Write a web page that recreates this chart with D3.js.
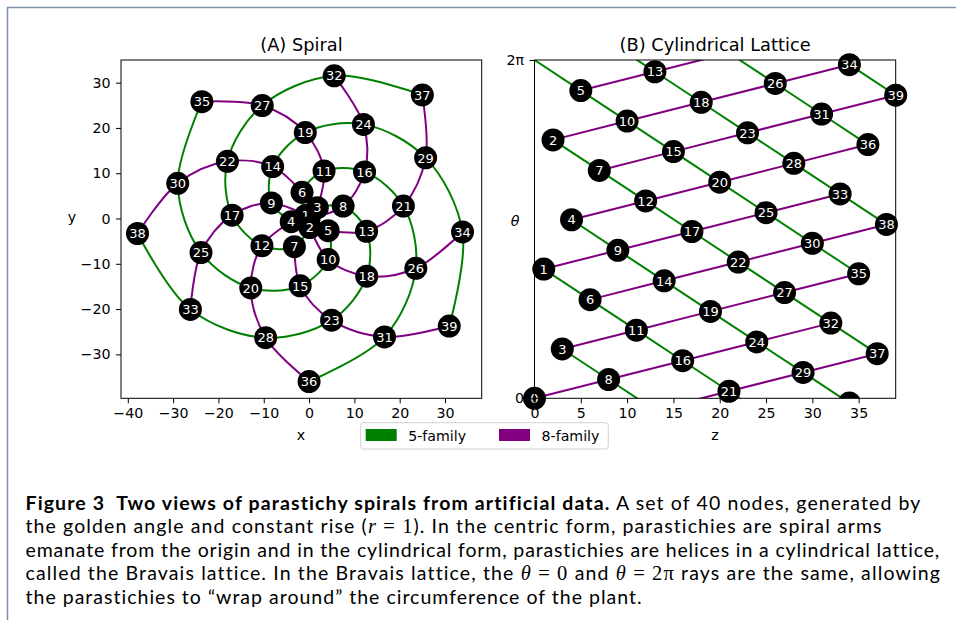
<!DOCTYPE html>
<html>
<head>
<meta charset="utf-8">
<script src="https://cdn.jsdelivr.net/npm/d3@7/dist/d3.min.js"></script>
<style>
  body { margin: 0; background: #fff; }
  svg { display: block; font-family: "DejaVu Sans", sans-serif; }
</style>
</head>
<body>
<svg id="fig" width="956" height="620"></svg>
<script>
// node ids (also the radius in the spiral and the rise z in the lattice)
const nodeIds = [0, 1, 2, 3, 4, 5, 6, 7, 8, 9, 10, 11, 12, 13, 14, 15, 16, 17, 18, 19,
  20, 21, 22, 23, 24, 25, 26, 27, 28, 29, 30, 31, 32, 33, 34, 35, 36, 37, 38, 39];
// divergence angle of each node, degrees in [0, 360)
const nodeAngles = [0, 137.5, 275, 52.5, 190, 327.5, 105, 242.5, 20, 157.5,
  295, 72.5, 210, 347.5, 125, 262.5, 40, 177.5, 315, 92.5,
  230, 7.5, 145, 282.5, 60, 197.5, 335, 112.5, 250, 27.5,
  165, 302.5, 80, 217.5, 355, 132.5, 270, 47.5, 185, 322.5];

const familySteps = [5, 8];
const familyLabels = ['5-family', '8-family'];
const familyColors = ['green', 'purple'];

const spiralXTicks = [-40, -30, -20, -10, 0, 10, 20, 30];
const spiralYTicks = [-30, -20, -10, 0, 10, 20, 30];
const latticeZTicks = [0, 5, 10, 15, 20, 25, 30, 35];
const latticeThetaTicks = [0, 2 * Math.PI];
const latticeThetaLabels = ['0', '2π'];

const svg = d3.select('#fig');
const rad = d => d * Math.PI / 180;
const tickFont = 14.2;
const titleFont = 17.8;
const nodeR = 11.5;

// page frame
svg.append('path')
  .attr('d', 'M7.5,620V7.5H956')
  .attr('fill', 'none')
  .attr('stroke', '#7b8fa8')
  .attr('stroke-width', 1.5);

const minus = d => d3.format('')(d).replace('-', '\u2212');

function axes(g, xScale, yScale, xTicks, yTicks, yFormat) {
  const ax = g.append('g')
    .attr('transform', `translate(0,${yScale.range()[0]})`)
    .call(d3.axisBottom(xScale).tickValues(xTicks).tickSize(5).tickPadding(4.5).tickFormat(minus));
  const ay = g.append('g')
    .attr('transform', `translate(${xScale.range()[0]},0)`)
    .call(d3.axisLeft(yScale).tickValues(yTicks).tickSize(5).tickPadding(5.5).tickFormat(yFormat || minus));
  [ax, ay].forEach(a => {
    a.select('.domain').remove();
    a.selectAll('text').attr('font-size', tickFont).attr('font-family', '"DejaVu Sans"').attr('fill', '#000');
    a.selectAll('line').attr('stroke', '#000');
  });
  const [x0, x1] = xScale.range();
  const [y0, y1] = yScale.range();
  g.append('rect')
    .attr('x', x0).attr('y', y1)
    .attr('width', x1 - x0).attr('height', y0 - y1)
    .attr('fill', 'none').attr('stroke', '#000').attr('stroke-width', 1);
}

function drawNode(g, x, y, label) {
  const n = g.append('g');
  n.append('circle').attr('cx', x).attr('cy', y).attr('r', nodeR).attr('fill', '#000');
  n.append('text').attr('x', x).attr('y', y).attr('dy', '0.36em')
    .attr('text-anchor', 'middle').attr('font-size', 13).attr('fill', '#fff')
    .text(label);
}

// ---------- (A) Spiral ----------
const xA = d3.scaleLinear().domain([-41.5, 38.1]).range([121, 481.7]);
const yA = d3.scaleLinear().domain([-39.7, 35]).range([398.3, 60]);
const gA = svg.append('g');
const spiralPoint = id => {
  const a = rad(nodeAngles[id]);
  return [xA(id * Math.cos(a)), yA(id * Math.sin(a))];
};

const spiralLine = d3.line().curve(d3.curveCatmullRom.alpha(0.5));
familySteps.forEach((step, fi) => {
  d3.range(step).forEach(start => {
    const chain = nodeIds.filter(id => id % step === start);
    gA.append('path')
      .attr('d', spiralLine(chain.map(spiralPoint)))
      .attr('fill', 'none')
      .attr('stroke', familyColors[fi])
      .attr('stroke-width', 2);
  });
});
nodeIds.forEach(id => {
  const [x, y] = spiralPoint(id);
  drawNode(gA, x, y, id);
});
axes(gA, xA, yA, spiralXTicks, spiralYTicks);
gA.append('text').attr('x', 301.4).attr('y', 51).attr('text-anchor', 'middle')
  .attr('font-size', titleFont).text('(A) Spiral');
gA.append('text').attr('x', 301).attr('y', 440).attr('text-anchor', 'middle')
  .attr('font-size', tickFont).text('x');
gA.append('text').attr('x', 72).attr('y', 222).attr('text-anchor', 'middle')
  .attr('font-size', tickFont).text('y');

// ---------- (B) Cylindrical Lattice ----------
const xB = d3.scaleLinear().domain([0, 39]).range([534.5, 895.7]);
const yB = d3.scaleLinear().domain([0, 2 * Math.PI]).range([398.3, 60]);
const gB = svg.append('g');

svg.append('defs').append('clipPath').attr('id', 'clipB')
  .append('rect').attr('x', 534.5).attr('y', 60).attr('width', 361.2).attr('height', 338.3);

const clipped = gB.append('g').attr('clip-path', 'url(#clipB)');
familySteps.forEach((step, fi) => {
  nodeIds.filter(id => nodeIds.includes(id + step)).forEach(id => {
    const a = nodeAngles[id];
    const b = nodeAngles[id + step];
    const d = b - a;
    let segs = [[a, b]];
    if (d > 180) segs = [[a + 360, b], [a, b - 360]];
    else if (d < -180) segs = [[a, b + 360], [a - 360, b]];
    segs.forEach(([t0, t1]) => {
      clipped.append('line')
        .attr('x1', xB(id)).attr('y1', yB(rad(t0)))
        .attr('x2', xB(id + step)).attr('y2', yB(rad(t1)))
        .attr('stroke', familyColors[fi])
        .attr('stroke-width', 2);
    });
  });
});
// wrapped copies one turn below, kept only where they reach into the frame
nodeIds
  .filter(id => yB(rad(nodeAngles[id] - 360)) - nodeR < yB.range()[0])
  .forEach(id => drawNode(clipped, xB(id), yB(rad(nodeAngles[id] - 360)), id));
nodeIds.forEach(id => drawNode(gB, xB(id), yB(rad(nodeAngles[id])), id));

axes(gB, xB, yB, latticeZTicks, latticeThetaTicks, (d, i) => latticeThetaLabels[i]);
gB.append('text').attr('x', 715.1).attr('y', 51).attr('text-anchor', 'middle')
  .attr('font-size', titleFont).text('(B) Cylindrical Lattice');
gB.append('text').attr('x', 715).attr('y', 440).attr('text-anchor', 'middle')
  .attr('font-size', tickFont).text('z');
gB.append('text').attr('x', 515).attr('y', 225.5).attr('text-anchor', 'middle')
  .attr('font-size', tickFont).attr('font-style', 'italic').text('θ');

// ---------- legend ----------
const lg = svg.append('g');
lg.append('rect').attr('x', 360.7).attr('y', 422.7).attr('width', 247.6).attr('height', 26.3)
  .attr('rx', 3).attr('fill', '#fff').attr('fill-opacity', 0.8)
  .attr('stroke', '#d0d0d0').attr('stroke-width', 1);
const legendX = [365.7, 499];
familyLabels.forEach((label, i) => {
  lg.append('rect').attr('x', legendX[i]).attr('y', 429).attr('width', 31).attr('height', 12)
    .attr('fill', familyColors[i]);
  lg.append('text').attr('x', legendX[i] + 42.5).attr('y', 440.5)
    .attr('font-size', tickFont).text(label);
});

// ---------- caption ----------
const captionLines = [
  [['Figure 3\u00a0 Two views of parastichy spirals from artificial data.', 'b'], [' A set of 40 nodes, generated by']],
  [['the golden angle and constant rise ('], ['r', 'i'], [' = 1', 'm'], ['). In the centric form, parastichies are spiral arms']],
  [['emanate from the origin and in the cylindrical form, parastichies are helices in a cylindrical lattice,']],
  [['called the Bravais lattice. In the Bravais lattice, the '], ['θ', 'i'], [' = 0', 'm'], [' and '], ['θ', 'i'], [' = 2π', 'm'], [' rays are the same, allowing']],
  [['the parastichies to \u201cwrap around\u201d the circumference of the plant.']]
];
const captionEnds = [922, 883, 940, 940, 643];
const captionLeft = 25.5;
const cap = svg.append('g').attr('font-family', 'Lato, "DejaVu Sans", sans-serif').attr('font-size', 19.5);
captionLines.forEach((parts, li) => {
  const t = cap.append('text').attr('x', captionLeft).attr('y', 510 + li * 23.4);
  parts.forEach(([s, kind]) => {
    const sp = t.append('tspan').text(s);
    if (kind === 'b') sp.attr('font-weight', 'bold');
    if (kind === 'i') sp.attr('font-family', '"Liberation Serif", serif').attr('font-style', 'italic').attr('font-size', 20.5);
    if (kind === 'm') sp.attr('font-family', '"Liberation Serif", serif').attr('font-size', 20.5);
  });
  // spread the letters so the line ends where the reference line ends
  const natural = t.node().getComputedTextLength();
  const chars = parts.map(p => p[0]).join('').length;
  t.style('letter-spacing', ((captionEnds[li] - captionLeft - natural) / chars) + 'px');
});
</script>
</body>
</html>
